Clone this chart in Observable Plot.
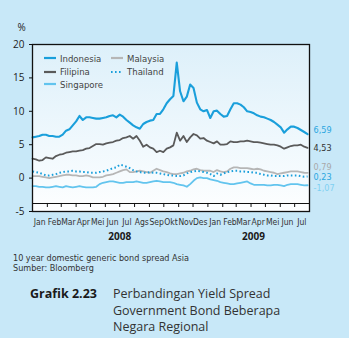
<!DOCTYPE html>
<html>
<head>
<meta charset="utf-8">
<script src="https://cdn.jsdelivr.net/npm/d3@7"></script>
<script src="https://cdn.jsdelivr.net/npm/@observablehq/plot@0.6"></script>
<style>
  html, body { margin: 0; padding: 0; background: #c8e8f8; }
  #wrap { position: relative; width: 349px; height: 338px; overflow: hidden; font-family: "Open Sans", sans-serif; }
  #legend { position: absolute; left: 44px; top: 52px; font-family: "Liberation Sans Narrow", "DejaVu Sans Condensed", sans-serif; font-size: 9.5px; color: #444; }
  .item { position: absolute; display: flex; align-items: center; white-space: nowrap; height: 12px; }
  .item svg { margin-right: 4px; }
  #notes { position: absolute; left: 13px; top: 253px; font-family: "Liberation Sans Narrow", "DejaVu Sans Condensed", sans-serif; font-size: 9px; line-height: 10px; color: #333; }
  #title { position: absolute; left: 30px; top: 286px; display: flex; font-size: 12.5px; line-height: 16.5px; color: #333; }
  #title b { width: 83px; color: #1a1a1a; }
</style>
</head>
<body>
<div id="wrap">
  <div id="chart"></div>
  <div id="legend"></div>
  <div id="notes">10 year domestic generic bond spread Asia<br>Sumber: Bloomberg</div>
  <div id="title"><b>Grafik 2.23</b><span>Perbandingan Yield Spread<br>Government Bond Beberapa<br>Negara Regional</span></div>
</div>
<script>
// Weekly 10-year government bond spreads (%), Jan 2008 – Jul 2009
const months = ["Jan","Feb","Mar","Apr","Mei","Jun","Jul","Ags","Sep","Okt","Nov","Des",
                "Jan","Feb","Mar","Apr","Mei","Jun","Jul"];
const years = ["2008", "2009"];
const names = ["Indonesia", "Filipina", "Singapore", "Malaysia", "Thailand"];

const indonesia = [6.1,6.2,6.3,6.5,6.5,6.3,6.3,6.2,6.2,6.5,7.1,7.3,7.9,8.5,9.3,8.7,9.1,9.1,9.0,8.9,
  8.9,9.0,9.1,9.3,9.4,9.1,9.5,9.2,8.7,8.3,7.9,7.6,7.4,8.1,8.4,8.6,8.7,9.6,9.6,10.3,
  11.2,11.8,12.3,17.3,13.0,11.5,12.2,14.0,13.5,11.3,10.3,10.0,10.2,9.0,10.0,10.1,9.6,9.2,9.3,10.3,
  11.2,11.2,11.0,10.6,10.0,9.9,9.7,9.4,9.2,9.1,8.9,8.7,8.4,8.0,7.6,6.8,7.3,7.7,7.7,7.5,
  7.2,6.9,6.59];
const filipina = [2.9,2.8,2.6,2.7,3.1,3.0,2.9,3.3,3.5,3.6,3.8,3.9,4.0,4.0,4.1,4.2,4.4,4.5,4.8,5.1,
  5.1,5.0,5.2,5.3,5.4,5.6,5.7,6.0,6.1,6.3,5.9,6.3,5.6,4.7,5.0,4.6,4.4,3.9,4.1,3.9,
  4.4,4.6,4.9,6.8,5.6,6.3,5.4,6.1,6.6,6.4,5.9,6.0,5.6,5.4,5.2,5.5,5.0,5.0,5.1,5.5,
  5.4,5.4,5.5,5.5,5.6,5.5,5.4,5.4,5.3,5.2,5.1,5.0,5.0,4.9,4.7,4.4,4.6,4.8,4.9,4.9,
  5.0,4.7,4.53];
const singapore = [-1.2,-1.2,-1.3,-1.3,-1.4,-1.4,-1.3,-1.2,-1.3,-1.4,-1.2,-1.3,-1.4,-1.3,-1.2,-1.3,-1.4,-1.4,-1.4,-1.3,
  -0.9,-0.7,-0.6,-0.5,-0.5,-0.6,-0.7,-0.7,-0.6,-0.6,-0.6,-0.5,-0.6,-0.7,-0.7,-0.6,-0.5,-0.4,-0.5,-0.6,
  -0.6,-0.6,-0.7,-0.9,-1.0,-1.1,-1.3,-0.9,-0.4,0.0,0.1,0.0,0.0,-0.2,-0.3,-0.4,-0.6,-0.7,-0.8,-0.9,
  -0.9,-0.8,-0.7,-0.6,-0.5,-0.8,-1.0,-1.0,-1.0,-1.0,-1.1,-1.1,-1.0,-1.0,-1.1,-1.2,-1.0,-0.9,-0.9,-0.9,
  -1.0,-1.1,-1.07];
const malaysia = [0.3,0.3,0.3,0.2,0.1,0.0,0.1,0.2,0.3,0.4,0.5,0.5,0.4,0.4,0.3,0.3,0.4,0.3,0.1,0.1,
  0.1,0.2,0.4,0.5,0.6,0.8,1.0,1.2,1.3,0.9,0.9,1.0,1.1,1.0,0.9,0.8,1.1,1.4,1.2,1.0,
  0.9,0.7,0.6,0.6,0.7,0.8,1.0,1.1,1.3,1.4,1.2,1.1,1.1,1.1,0.9,1.2,1.0,0.9,1.0,1.4,
  1.6,1.6,1.5,1.5,1.5,1.4,1.3,1.4,1.3,1.1,1.0,0.9,0.8,0.6,0.7,0.8,0.9,1.0,1.0,1.0,
  0.9,0.8,0.79];
const thailand = [1.0,0.9,0.8,0.6,0.4,0.4,0.5,0.6,0.8,0.9,1.0,1.0,1.1,1.0,1.0,0.9,0.9,0.8,0.8,0.8,
  0.9,1.0,1.1,1.3,1.5,1.6,2.0,1.9,1.7,1.5,1.2,1.0,0.9,0.8,0.8,0.9,0.8,0.8,0.7,0.6,
  0.5,0.4,0.4,0.3,0.3,0.4,0.7,0.9,1.0,1.1,1.0,0.9,0.8,0.6,0.3,0.7,0.5,0.7,0.9,1.0,
  1.1,1.1,1.0,1.0,0.9,0.9,0.8,0.8,0.6,0.5,0.4,0.4,0.3,0.3,0.3,0.3,0.4,0.4,0.4,0.4,
  0.3,0.2,0.23];
const yTicks = [-5, 0, 5, 10, 15, 20];

// line styling per series; shift nudges the end label vertically so they don't collide
const style = {
  Indonesia: {stroke: "#1a9fdb", width: 2.1, dash: null, labelColor: "#2aa6df", shift: -3.5},
  Filipina:  {stroke: "#5a5a5a", width: 1.8, dash: null, labelColor: "#333333", shift: 0.5},
  Singapore: {stroke: "#62c4ee", width: 1.8, dash: null, labelColor: "#7fd0f2", shift: 3},
  Malaysia:  {stroke: "#b6b6b6", width: 1.8, dash: null, labelColor: "#a9a9a9", shift: -6},
  Thailand:  {stroke: "#1a9fdb", width: 2.0, dash: "1.6,2.4", labelColor: "#2aa6df", shift: 1}
};

const values = {Indonesia: indonesia, Filipina: filipina, Singapore: singapore, Malaysia: malaysia, Thailand: thailand};
const start = new Date(Date.UTC(2008, 0, 1));
const end = new Date(Date.UTC(2009, 7, 1));
const dates = indonesia.map((_, i) => d3.utcDay.offset(start, 7 * i));
const rows = names.flatMap(name => values[name].map((v, i) => ({name, date: dates[i], value: v})));
const lastRows = names.map(name => ({name, date: dates[dates.length - 1], value: values[name][values[name].length - 1]}));

const monthStarts = d3.utcMonth.range(start, d3.utcDay.offset(end, 1));
const monthMids = d3.utcMonth.range(start, end).map(d => d3.utcDay.offset(d, 15));
const yearMids = [new Date(Date.UTC(2008, 6, 1)), new Date(Date.UTC(2009, 3, 6))];

const drawOrder = ["Malaysia", "Singapore", "Thailand", "Filipina", "Indonesia"];
const fmt = v => v.toFixed(2).replace(".", ",");

const chart = Plot.plot({
  width: 349,
  height: 245,
  marginLeft: 32,
  marginRight: 40,
  marginTop: 44,
  marginBottom: 34,
  style: {background: "transparent", fontFamily: "'Open Sans', sans-serif", fontSize: "10px", color: "#222", overflow: "visible"},
  x: {type: "utc", domain: [start, end]},
  y: {domain: [-5, 20]},
  marks: [
    Plot.frame({fill: "#ffffff", stroke: "none"}),
    Plot.ruleY([-3.8], {stroke: "#111", strokeWidth: 1.2}),
    Plot.ruleX(monthStarts, {x: d => d, y1: -3.8, y2: -4.4, stroke: "#111", strokeWidth: 1}),
    ...drawOrder.map(name => Plot.line(rows.filter(r => r.name === name), {
      x: "date", y: "value",
      stroke: style[name].stroke,
      strokeWidth: style[name].width,
      strokeDasharray: style[name].dash,
      strokeLinejoin: "round",
      strokeLinecap: style[name].dash ? "butt" : "round"
    })),
    ...lastRows.map(r => Plot.text([r], {
      x: "date", y: "value", text: d => fmt(d.value),
      dx: 6, dy: style[r.name].shift, textAnchor: "start",
      fill: style[r.name].labelColor,
      fontFamily: "'Liberation Sans Narrow', 'DejaVu Sans Condensed', sans-serif",
      fontSize: 9
    })),
    Plot.frame({stroke: "#111", strokeWidth: 1.3}),
    Plot.axisY({ticks: yTicks, tickSize: 3, tickPadding: 5, tickFormat: d => String(d), label: null, fontSize: 10, stroke: "#111"}),
    Plot.axisX({ticks: monthMids, tickSize: 0, tickPadding: 7, tickFormat: (d, i) => months[i], label: null,
      fontFamily: "'Liberation Sans Narrow', 'DejaVu Sans Condensed', sans-serif", fontSize: 8.5, fill: "#333"}),
    Plot.text(years, {x: (d, i) => yearMids[i], frameAnchor: "bottom", dy: 28, text: d => d,
      fontWeight: "bold", fontSize: 10, fill: "#1a1a1a"}),
    Plot.text(["%"], {frameAnchor: "top-left", dx: -15, dy: -21, text: d => d, fontSize: 10, fill: "#222"})
  ]
});

// soft blue-to-white wash inside the plotting frame
const svg = d3.select(chart);
const grad = svg.insert("defs", ":first-child").append("linearGradient")
  .attr("id", "plotWash").attr("x1", 0).attr("y1", 0).attr("x2", 0).attr("y2", 1);
grad.append("stop").attr("offset", "0%").attr("stop-color", "#ddf0fa");
grad.append("stop").attr("offset", "100%").attr("stop-color", "#fdfeff");
svg.selectAll("[aria-label=frame]").filter(function() { return this.getAttribute("fill") === "#ffffff"; })
  .attr("fill", "url(#plotWash)");
document.getElementById("chart").append(chart);

// legend
const legendPos = {
  Indonesia: [0, 0], Filipina: [0, 13.5], Singapore: [0, 26],
  Malaysia: [67, 0], Thailand: [67, 13.5]
};
const legend = d3.select("#legend");
for (const name of names) {
  const s = style[name];
  const item = legend.append("div").attr("class", "item")
    .style("left", legendPos[name][0] + "px").style("top", legendPos[name][1] + "px");
  const sw = item.append("svg").attr("width", 12).attr("height", 6);
  sw.append("line").attr("x1", 0).attr("x2", 12).attr("y1", 3).attr("y2", 3)
    .attr("stroke", s.stroke).attr("stroke-width", 2.2)
    .attr("stroke-dasharray", s.dash);
  item.append("span").text(name);
}
</script>
</body>
</html>
